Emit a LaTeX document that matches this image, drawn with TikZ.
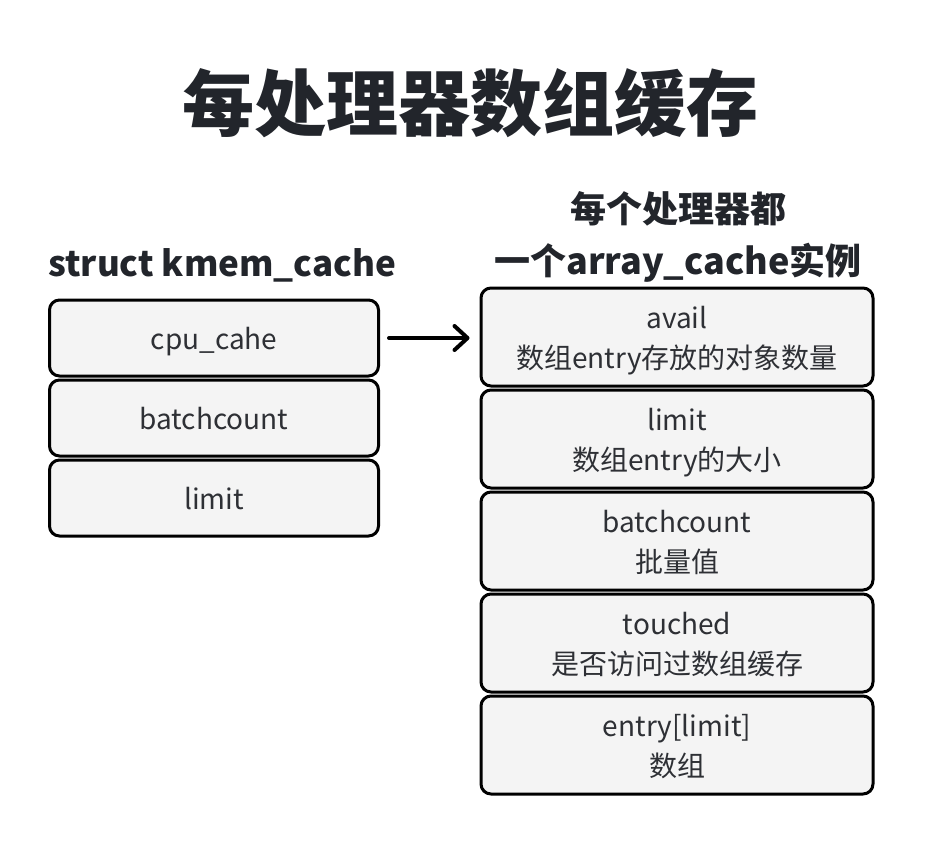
\documentclass[tikz,border=0pt]{standalone}
\usepackage{fontspec}
\setmainfont{Noto Sans CJK SC}
\usetikzlibrary{positioning,arrows.meta}
\definecolor{boxfill}{HTML}{F4F4F4}
\definecolor{inkdark}{HTML}{22252B}
\definecolor{txtgray}{HTML}{2E3035}
\tikzset{
  field/.style={draw=black, line width=3pt, rounded corners=10pt, fill=boxfill,
    text=txtgray, font=\fontsize{28}{40}\selectfont, align=center,
    minimum width=329pt, minimum height=76pt, inner sep=0pt, text depth=0pt},
  slot/.style={field, minimum width=392pt, minimum height=98pt, text depth=-2pt},
  heading/.style={text=inkdark, font=\fontsize{36}{52}\selectfont\bfseries, align=center, inner sep=0pt},
  pointer/.style={line width=4pt, line cap=round, line join=round,
    -{Straight Barb[length=13pt,width=24pt,line width=4pt,round]}}
}
\begin{document}
\begin{tikzpicture}[x=1pt,y=-1pt]
  \useasboundingbox (0,0) rectangle (926,844);
  \node[text=inkdark, font=\fontsize{72}{80}\selectfont\bfseries] (title) at (470,103) {每处理器数组缓存};

  % struct kmem_cache
  \node[heading, anchor=west, font=\fontsize{35}{50}\selectfont\bfseries] (kmem) at (48,265) {struct kmem\_cache};
  \node[field] (cpu) at (214,338) {cpu\_cahe};
  \node[field, below=1pt of cpu] (batch) {batchcount};
  \node[field, below=1pt of batch] (lim) {limit};

  % array_cache
  \node[heading] (arr) at (678,237) {每个处理器都\\一个array\_cache实例};
  \node[slot] (avail) at (677,337) {avail\\数组entry存放的对象数量};
  \node[slot, below=1pt of avail] (alimit) {limit\\数组entry的大小};
  \node[slot, below=1pt of alimit] (abatch) {batchcount\\批量值};
  \node[slot, below=1pt of abatch] (touched) {touched\\是否访问过数组缓存};
  \node[slot, below=1pt of touched] (entry) {entry[limit]\\数组};

  \draw[pointer] ([xshift=9pt]cpu.east) -- ([xshift=-10pt]avail.west |- cpu.east);
\end{tikzpicture}
\end{document}
